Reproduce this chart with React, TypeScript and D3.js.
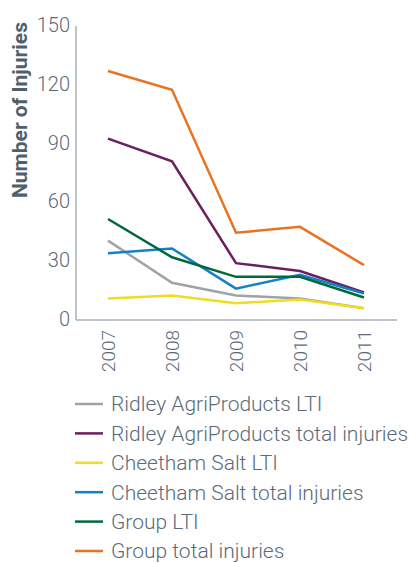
import { useEffect, useRef } from "react";
import * as d3 from "d3";

const years = ["2007", "2008", "2009", "2010", "2011"];
const yTicks = [0, 30, 60, 90, 120, 150];

const seriesNames = [
  "Ridley AgriProducts LTI",
  "Ridley AgriProducts total injuries",
  "Cheetham Salt LTI",
  "Cheetham Salt total injuries",
  "Group LTI",
  "Group total injuries",
];
const seriesColors = ["#9ea3a8", "#6a1f5e", "#f1dc1f", "#1480c6", "#00693a", "#ea7323"];

const ridleyLti = [40, 18.5, 12, 10.5, 5.5];
const ridleyTotal = [92, 80.5, 28.5, 24.5, 13.5];
const cheethamLti = [10.5, 12, 8, 10, 5.5];
const cheethamTotal = [33.5, 36, 15.5, 22.5, 13];
const groupLti = [51, 31.5, 21.5, 21.5, 11];
const groupTotal = [126.5, 117, 44, 47, 27.5];

const seriesValues = [ridleyLti, ridleyTotal, cheethamLti, cheethamTotal, groupLti, groupTotal];

const textColor = "#5b6b78";

export default function App() {
  const svgRef = useRef<SVGSVGElement>(null);

  useEffect(() => {
    if (!svgRef.current) return;
    const svg = d3.select(svgRef.current);
    svg.selectAll("*").remove();

    const x = d3.scalePoint<string>().domain(years).range([108, 364]);
    const y = d3.scaleLinear().domain([0, 150]).range([319, 25]);

    // axes lines
    svg.append("line")
      .attr("x1", 76).attr("x2", 76)
      .attr("y1", 26).attr("y2", 320)
      .attr("stroke", "#a9b1b8").attr("stroke-width", 1.5);
    svg.append("line")
      .attr("x1", 76).attr("x2", 397)
      .attr("y1", 320).attr("y2", 320)
      .attr("stroke", "#a9b1b8").attr("stroke-width", 1.5);

    // y tick labels
    svg.append("g")
      .selectAll("text")
      .data(yTicks)
      .enter()
      .append("text")
      .attr("x", 70)
      .attr("y", (d) => y(d))
      .attr("dy", "0.35em")
      .attr("text-anchor", "end")
      .attr("font-family", "Roboto")
      .attr("font-weight", 300)
      .attr("font-size", 20)
      .attr("fill", textColor)
      .text((d) => d);

    // y title
    svg.append("text")
      .attr("transform", "translate(27,110) rotate(-90)")
      .attr("text-anchor", "middle")
      .attr("font-family", "Roboto")
      .attr("font-weight", 700)
      .attr("font-size", 21)
      .attr("fill", "#4f5f6c")
      .text("Number of Injuries");

    // x tick labels
    svg.append("g")
      .selectAll("text")
      .data(years)
      .enter()
      .append("text")
      .attr("transform", (d) => `translate(${x(d)! + 7},330) rotate(-90)`)
      .attr("text-anchor", "end")
      .attr("font-family", "Roboto")
      .attr("font-weight", 300)
      .attr("font-size", 19)
      .attr("fill", textColor)
      .text((d) => d);

    const line = d3.line<number>()
      .x((_, i) => x(years[i])!)
      .y((d) => y(d));

    svg.append("g")
      .selectAll("path")
      .data(seriesValues)
      .enter()
      .append("path")
      .attr("d", (d) => line(d))
      .attr("fill", "none")
      .attr("stroke", (_, i) => seriesColors[i])
      .attr("stroke-width", 2.5)
      .attr("stroke-linejoin", "miter");

    // legend
    const legend = svg.append("g")
      .selectAll("g")
      .data(seriesNames)
      .enter()
      .append("g")
      .attr("transform", (_, i) => `translate(0,${404 + i * 29.4})`);
    legend.append("line")
      .attr("x1", 75).attr("x2", 103)
      .attr("y1", 0).attr("y2", 0)
      .attr("stroke", (_, i) => seriesColors[i])
      .attr("stroke-width", 2.5);
    legend.append("text")
      .attr("x", 111)
      .attr("y", 0)
      .attr("dy", "0.35em")
      .attr("font-family", "Roboto")
      .attr("font-weight", 300)
      .attr("font-size", 21)
      .attr("fill", textColor)
      .text((d) => d);
  }, []);

  return (
    <svg
      ref={svgRef}
      width={419}
      height={563}
      style={{ position: "absolute", left: 0, top: 0, background: "#fff" }}
    />
  );
}
